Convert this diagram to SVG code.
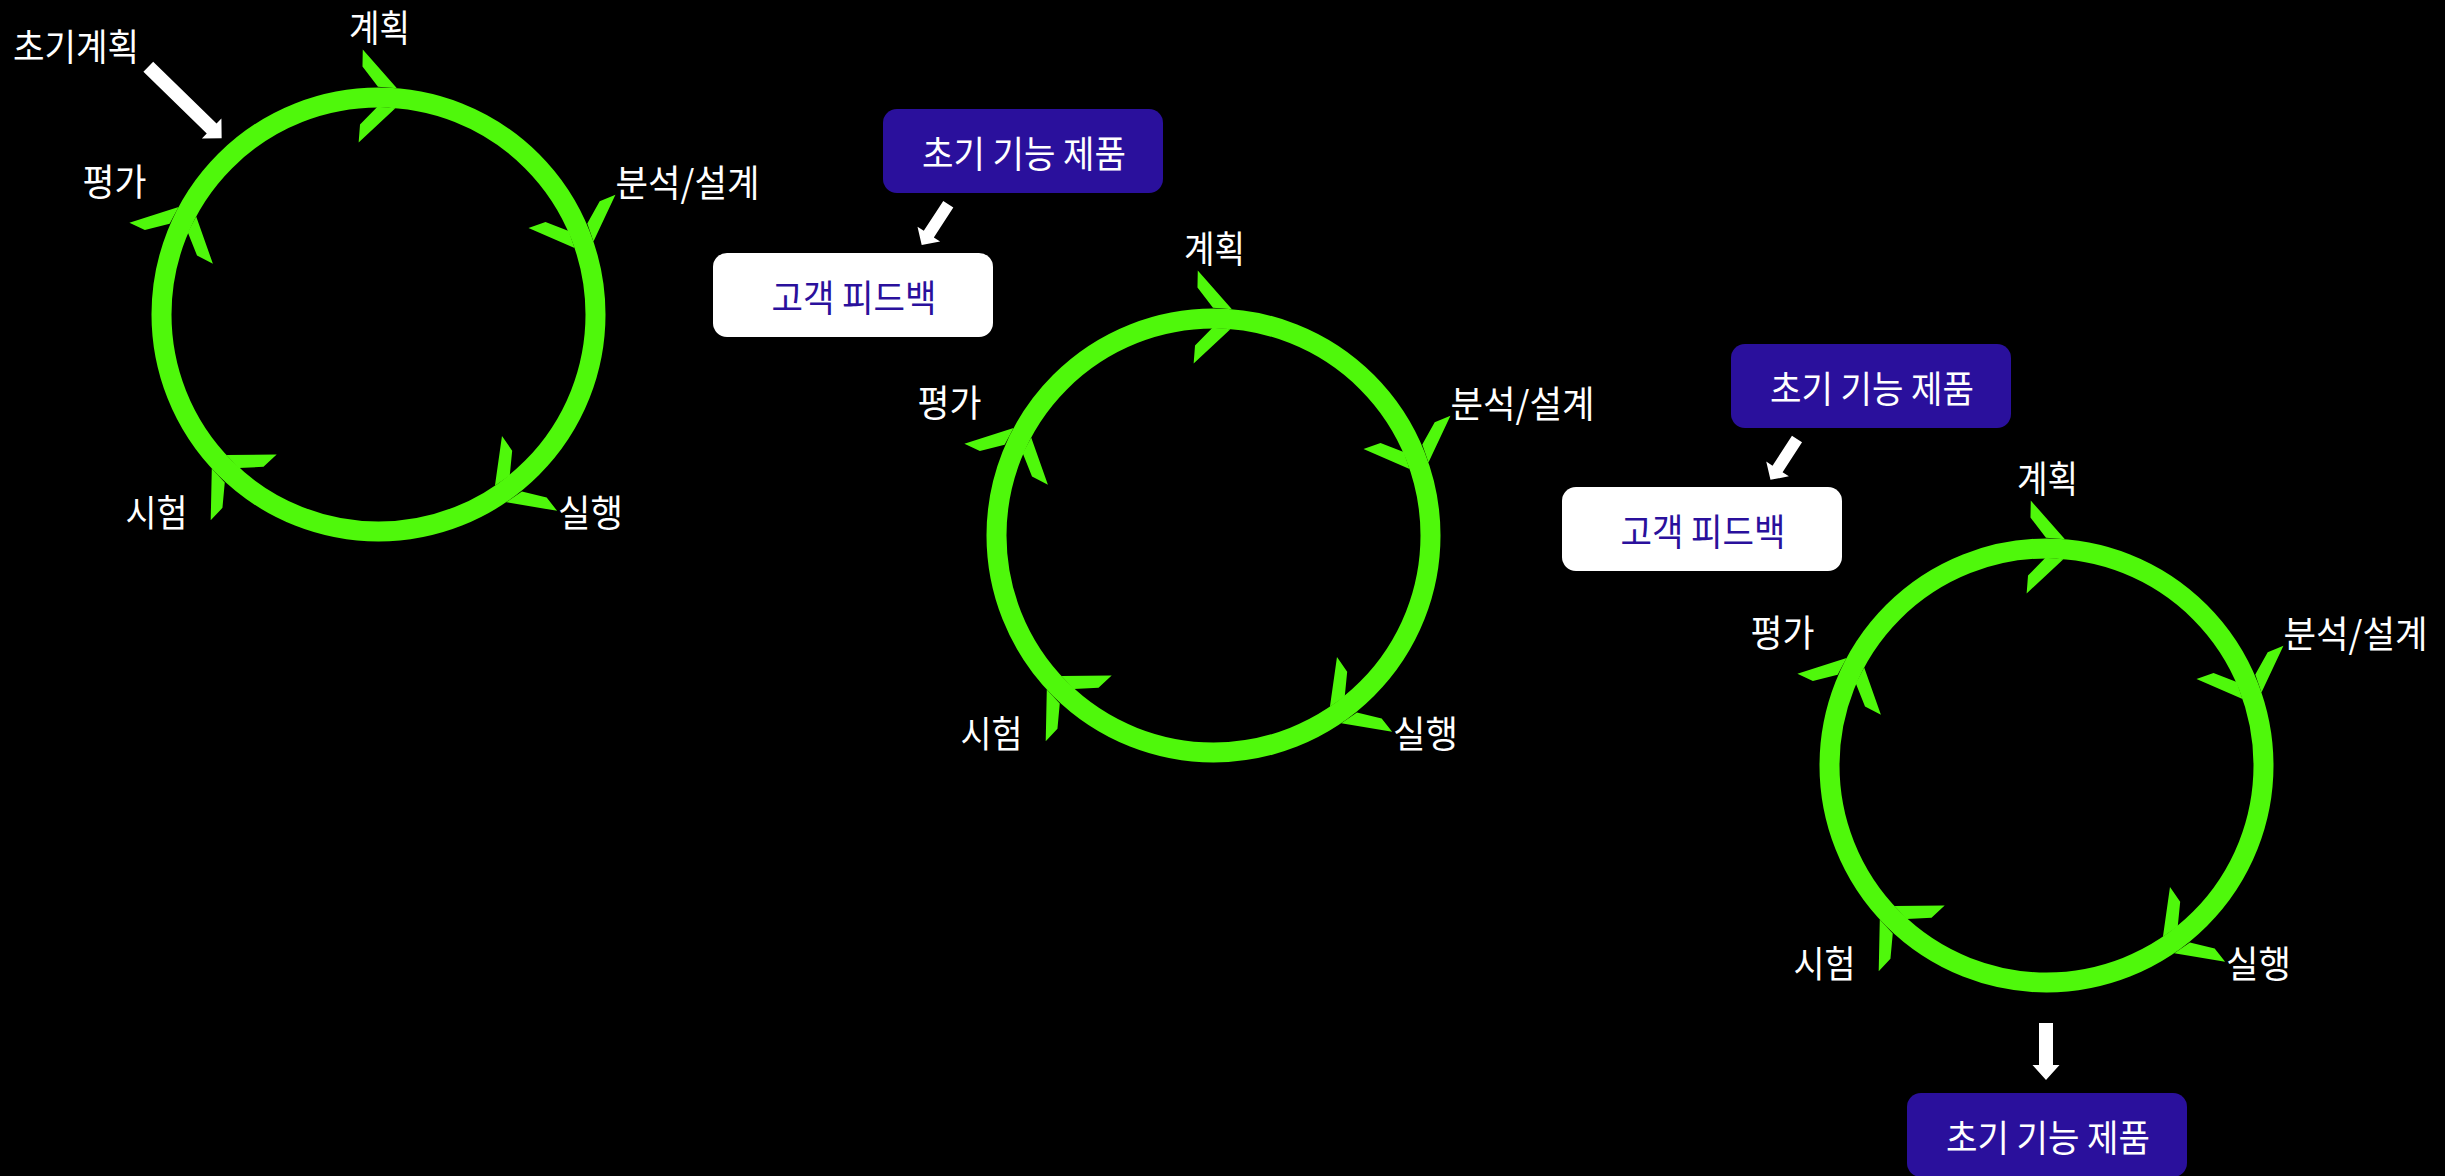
<svg xmlns="http://www.w3.org/2000/svg" width="2445" height="1176" viewBox="0 0 2445 1176">
<style>
.lbl{font-family:"Noto Sans CJK KR","Noto Sans",sans-serif;font-size:37px;fill:#ffffff;text-anchor:middle;dominant-baseline:central}
.btxt{font-family:"Noto Sans CJK KR","Noto Sans",sans-serif;font-size:37px;text-anchor:middle;dominant-baseline:central}
.ring{fill:none;stroke:#4ff80b;stroke-width:20}
.barb{fill:#4ff80b}
.pbox{fill:#2a109c}
.wbox{fill:#ffffff}
.ptxt{fill:#ffffff}
.wtxt{fill:#2a109c}
.arr{fill:#ffffff}
</style>
<defs>
  <path id="barbs" class="barb" d="M1,-10 L-36,-46 L-35,-29 L-18,-10 Z M1,10 L-33,47 L-33,29 L-17,10 Z"/>
  <g id="cycleRing">
    <circle class="ring" cx="0" cy="0" r="217"/>
    <use href="#barbs" transform="rotate(4.4) translate(0,-217)"/>
    <use href="#barbs" transform="rotate(71) translate(0,-217)"/>
    <use href="#barbs" transform="rotate(145.5) translate(0,-217)"/>
    <use href="#barbs" transform="rotate(227) translate(0,-217)"/>
    <use href="#barbs" transform="rotate(298) translate(0,-217)"/>
  </g>
  <path id="shortArrow" d="M0,-6 L35.7,-6 L35.7,-13.5 L48.7,0 L35.7,13.5 L35.7,6 L0,6 Z"/>
</defs>
<rect x="0" y="0" width="2445" height="1176" fill="#000000"/>

<g id="cycle1" transform="translate(378.5,314.5)">
  <use href="#cycleRing"/>
  <text class="lbl" x="1" y="-289" textLength="61" lengthAdjust="spacingAndGlyphs">계획</text>
  <text class="lbl" x="309" y="-134" textLength="144" lengthAdjust="spacingAndGlyphs">분석/설계</text>
  <text class="lbl" x="212" y="196" textLength="65" lengthAdjust="spacingAndGlyphs">실행</text>
  <text class="lbl" x="-222" y="196" textLength="62" lengthAdjust="spacingAndGlyphs">시험</text>
  <text class="lbl" x="-264" y="-135" textLength="64" lengthAdjust="spacingAndGlyphs">평가</text>
</g>

<g id="cycle2" transform="translate(1213.5,535.5)">
  <use href="#cycleRing"/>
  <text class="lbl" x="1" y="-289" textLength="61" lengthAdjust="spacingAndGlyphs">계획</text>
  <text class="lbl" x="309" y="-134" textLength="144" lengthAdjust="spacingAndGlyphs">분석/설계</text>
  <text class="lbl" x="212" y="196" textLength="65" lengthAdjust="spacingAndGlyphs">실행</text>
  <text class="lbl" x="-222" y="196" textLength="62" lengthAdjust="spacingAndGlyphs">시험</text>
  <text class="lbl" x="-264" y="-135" textLength="64" lengthAdjust="spacingAndGlyphs">평가</text>
</g>

<g id="cycle3" transform="translate(2046.5,765.5)">
  <use href="#cycleRing"/>
  <text class="lbl" x="1" y="-289" textLength="61" lengthAdjust="spacingAndGlyphs">계획</text>
  <text class="lbl" x="309" y="-134" textLength="144" lengthAdjust="spacingAndGlyphs">분석/설계</text>
  <text class="lbl" x="212" y="196" textLength="65" lengthAdjust="spacingAndGlyphs">실행</text>
  <text class="lbl" x="-222" y="196" textLength="62" lengthAdjust="spacingAndGlyphs">시험</text>
  <text class="lbl" x="-264" y="-135" textLength="64" lengthAdjust="spacingAndGlyphs">평가</text>
</g>

<g id="initialPlan">
  <text class="lbl" x="76" y="45" textLength="126" lengthAdjust="spacingAndGlyphs">초기계획</text>
</g>

<g id="product1">
  <rect class="pbox" x="883" y="109" width="280" height="84" rx="14"/>
  <text class="btxt ptxt" x="1024" y="152" textLength="204" lengthAdjust="spacingAndGlyphs">초기 기능 제품</text>
</g>
<g id="feedback1">
  <rect class="wbox" x="713" y="253" width="280" height="84" rx="14"/>
  <text class="btxt wtxt" x="854" y="296" textLength="165" lengthAdjust="spacingAndGlyphs">고객 피드백</text>
</g>
<g id="product2">
  <rect class="pbox" x="1731" y="344" width="280" height="84" rx="14"/>
  <text class="btxt ptxt" x="1872" y="387" textLength="204" lengthAdjust="spacingAndGlyphs">초기 기능 제품</text>
</g>
<g id="feedback2">
  <rect class="wbox" x="1562" y="487" width="280" height="84" rx="14"/>
  <text class="btxt wtxt" x="1703" y="530" textLength="165" lengthAdjust="spacingAndGlyphs">고객 피드백</text>
</g>
<g id="product3">
  <rect class="pbox" x="1907" y="1093" width="280" height="84" rx="14"/>
  <text class="btxt ptxt" x="2048" y="1136" textLength="204" lengthAdjust="spacingAndGlyphs">초기 기능 제품</text>
</g>

<g id="connectors" class="arr">
  <path d="M0,-7 L88.5,-7 L88.5,-14 L102.5,0 L88.5,14 L88.5,7 L0,7 Z" transform="translate(148.3,66.7) rotate(44.3)"/>
  <use href="#shortArrow" transform="translate(948.3,204.2) rotate(123.1)"/>
  <use href="#shortArrow" transform="translate(1797,439) rotate(123)"/>
  <path d="M0,-7 L42,-7 L42,-13.5 L57,0 L42,13.5 L42,7 L0,7 Z" transform="translate(2046,1023) rotate(90)"/>
</g>
</svg>
